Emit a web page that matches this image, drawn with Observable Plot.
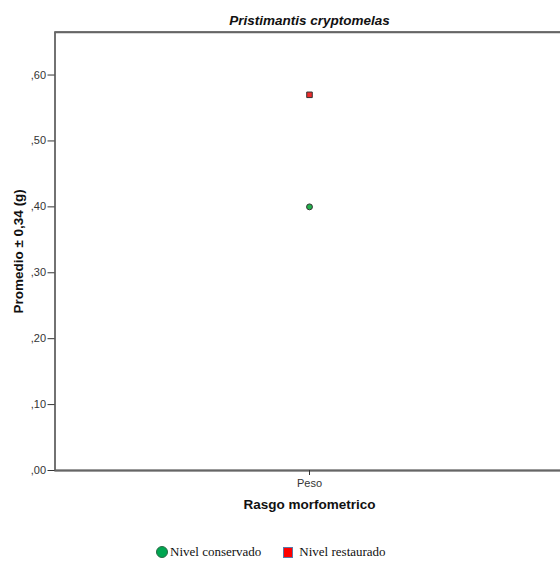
<!DOCTYPE html>
<html>
<head>
<meta charset="utf-8">
<script src="https://cdn.jsdelivr.net/npm/d3@7"></script>
<script src="https://cdn.jsdelivr.net/npm/@observablehq/plot@0.6"></script>
<style>
  html, body { margin: 0; background: #fff; overflow: hidden; }
  #chart { width: 560px; height: 530px; overflow: hidden; }
  #chart svg { max-width: none !important; }
  #legend { font-family: "Liberation Serif", "Times New Roman", serif; font-size: 13px; color: #111;
    display: flex; align-items: center; padding-left: 156px; height: 44px; }
  .item { display: flex; align-items: center; margin-right: 22px; }
  .sw { display: inline-block; margin-right: 2px; }
</style>
</head>
<body>
<div id="chart"></div>
<div id="legend"></div>
<script>
const title = "Pristimantis cryptomelas";
const categories = ["Peso"];
const series = ["Nivel conservado", "Nivel restaurado"];
const values = [0.40, 0.57];
const yTicks = [0, 0.1, 0.2, 0.3, 0.4, 0.5, 0.6];
const yMax = 0.665;
const xLabel = "Rasgo morfometrico";
const yLabel = "Promedio \u00b1 0,34 (g)";
const colors = ["#22b14c", "#ee2b2b"];
const symbols = ["circle", "square"];

const data = series.map((s, i) => ({cat: categories[0], serie: s, value: values[i]}));

const fmt = d => d3.format(".2f")(d).replace(/^0\./, ",");

const plot = Plot.plot({
  width: 564,
  height: 530,
  marginLeft: 54.5,
  marginRight: 0,
  marginTop: 31.7,
  marginBottom: 60,
  style: {fontFamily: "Liberation Sans, Arial, sans-serif", background: "#fff", maxWidth: "none"},
  x: {type: "point", domain: categories, padding: 0.5},
  y: {domain: [0, yMax]},
  marks: [
    Plot.frame({stroke: "#444", strokeWidth: 1.5}),
    Plot.ruleY([yMax], {stroke: "#666", strokeWidth: 2}),
    Plot.ruleY([0], {stroke: "#666", strokeWidth: 2}),
    Plot.axisY({ticks: yTicks, tickFormat: fmt, tickSize: 7, tickPadding: 2, fontSize: 11, fill: "#333", stroke: "#333", label: null}),
    Plot.axisX({tickSize: 5, tickPadding: 4, fontSize: 11, fill: "#333", stroke: "#333", label: null}),
    Plot.dot(data, {x: "cat", y: "value", symbol: (d, i) => symbols[i], fill: (d, i) => colors[i], stroke: "#333", strokeWidth: 1, r: (d, i) => i === 0 ? 4.3 : 4.8}),
    Plot.text([title], {frameAnchor: "top", dy: -17, text: d => d, fontSize: 13.5, fontWeight: "bold", fontStyle: "italic", fill: "#111", x: () => categories[0]}),
    Plot.text([xLabel], {frameAnchor: "bottom", dy: 38, text: d => d, fontSize: 13.5, fontWeight: "bold", fill: "#111", x: () => categories[0]}),
    Plot.text([yLabel], {frameAnchor: "left", textAnchor: "middle", dx: -36, rotate: -90, text: d => d, fontSize: 13.5, fontWeight: "bold", fill: "#111"})
  ]
});
document.getElementById("chart").appendChild(plot);

const legend = document.getElementById("legend");
series.forEach((s, i) => {
  const item = document.createElement("span");
  item.className = "item";
  const sw = document.createElement("span");
  sw.className = "sw";
  if (i === 0) {
    sw.style.cssText = "width:10px;height:10px;border-radius:50%;background:#00a651;border:0.5px solid #2a6a45;";
  } else {
    sw.style.cssText = "width:8px;height:9px;background:#ff0000;border:1px solid #5a78a8;margin-right:6px;";
  }
  item.appendChild(sw);
  item.appendChild(document.createTextNode(s));
  legend.appendChild(item);
});
</script>
</body>
</html>
